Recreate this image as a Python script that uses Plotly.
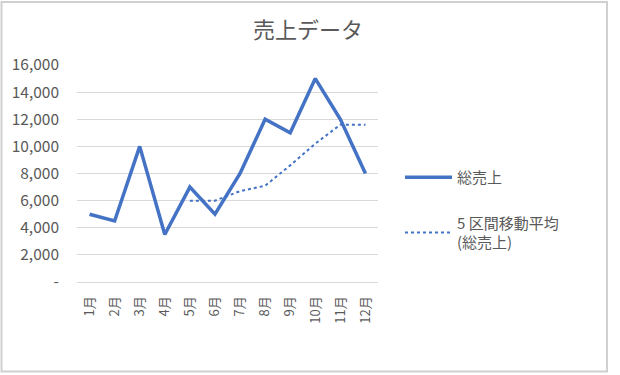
import plotly.graph_objects as go

months = ["1月", "2月", "3月", "4月", "5月", "6月", "7月", "8月", "9月", "10月", "11月", "12月"]
sales = [5000, 4500, 10000, 3500, 7000, 5000, 8000, 12000, 11000, 15000, 12000, 8000]
moving_avg = [None, None, None, None, 6000, 6000, 6700, 7100, 8600, 10200, 11600, 11600]
y_tick_vals = [0, 2000, 4000, 6000, 8000, 10000, 12000, 14000, 16000]
y_tick_text = ["-", "2,000", "4,000", "6,000", "8,000", "10,000", "12,000", "14,000", "16,000"]

FONT = "Noto Sans CJK JP"
GREY = "#595959"
BLUE = "#4472C4"

W, H = 620, 375
L, R, T, B = 77, 242, 65, 93
pw, ph = W - L - R, H - T - B

def px(x):
    return (x - L) / pw

def py(y):
    return (H - B - y) / ph

fig = go.Figure()
fig.add_trace(go.Scatter(x=months, y=sales, mode="lines", name="総売上",
                         line=dict(color=BLUE, width=3.5), legendgroup="a"))
fig.add_trace(go.Scatter(x=months, y=moving_avg, mode="lines",
                         name="5 区間移動平均<br>(総売上)",
                         line=dict(color=BLUE, width=2, dash="dot"), legendgroup="b"))

fig.update_layout(
    width=W, height=H,
    margin=dict(l=L, r=R, t=T, b=B),
    paper_bgcolor="white", plot_bgcolor="white",
    font=dict(family=FONT, color=GREY, size=14),
    title=dict(text="売上データ", x=px(308), xanchor="center", y=1 - 30 / H, yanchor="middle",
               xref="paper", font=dict(family=FONT, size=22, color=GREY)),
    showlegend=True,
    legend=dict(x=px(400), y=py(161), xanchor="left", yanchor="top",
                font=dict(family=FONT, size=15, color=GREY),
                itemwidth=47, tracegroupgap=23, bgcolor="rgba(0,0,0,0)"),
    xaxis=dict(type="category", range=[-0.5, 11.5], showgrid=False,
               showline=True, linecolor="#d9d9d9", linewidth=1,
               tickangle=-90, ticks="", ticklabelstandoff=8,
               tickfont=dict(family=FONT, size=13, color=GREY),
               fixedrange=True),
    yaxis=dict(range=[0, 16000], tickvals=y_tick_vals, ticktext=y_tick_text,
               showgrid=True, gridcolor="#d9d9d9", gridwidth=1, zeroline=False,
               showline=False, ticks="", ticklabelstandoff=17,
               tickfont=dict(family=FONT, size=15.5, color=GREY), fixedrange=True),
    shapes=[dict(type="rect", xref="paper", yref="paper",
                 x0=px(1.5), x1=px(607), y0=py(371.5), y1=py(2),
                 line=dict(color="#d0d0d0", width=2), fillcolor="rgba(0,0,0,0)", layer="below")],
)

fig.write_html("out.html", config={"displayModeBar": False},
               post_script="document.body.style.margin='0';")
